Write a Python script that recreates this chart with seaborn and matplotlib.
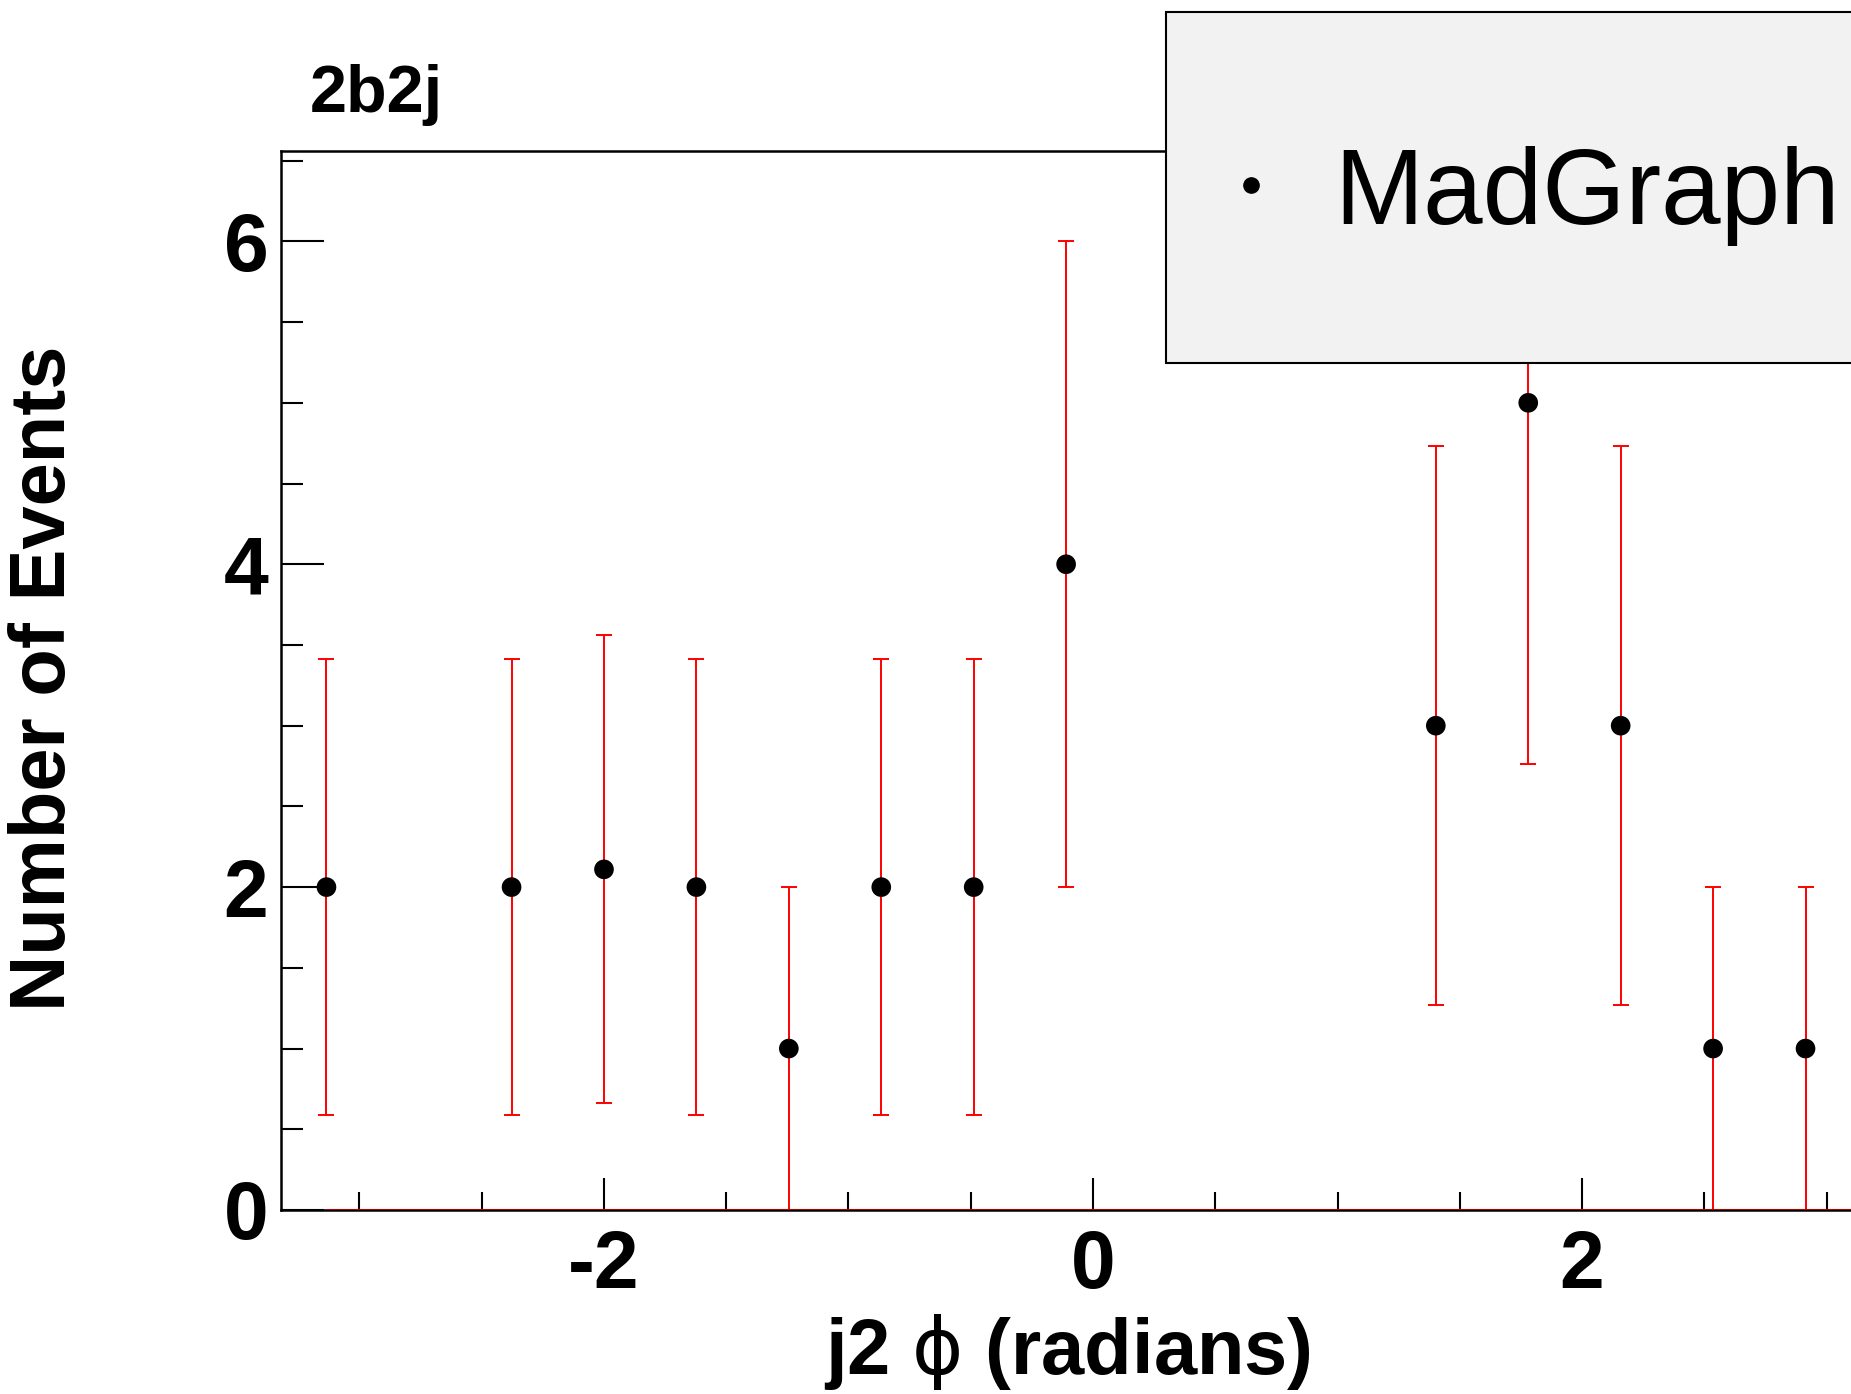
import numpy as np
import pandas as pd
import matplotlib
matplotlib.use("Agg")
import matplotlib.pyplot as plt
from matplotlib.patches import Rectangle
from matplotlib.lines import Line2D
import seaborn as sns

# bin centres (radians) and counts
phi_centers = [-3.135, -2.378, -2.0, -1.622, -1.244, -0.866, -0.488, -0.11,
               1.402, 1.78, 2.158, 2.536, 2.914]
n_events = [2, 2, 2.11, 2, 1, 2, 2, 4, 3, 5, 3, 1, 1]
n_errors = [1.41, 1.41, 1.45, 1.41, 1.0, 1.41, 1.41, 2.0, 1.73, 2.24, 1.73, 1.0, 1.0]

x_major = [-2, 0, 2]
y_major = [0, 2, 4, 6]

df = pd.DataFrame({"phi": phi_centers, "n": n_events, "err": n_errors})

sns.set_style("ticks")
plt.rcParams["font.family"] = ["Liberation Sans", "DejaVu Sans"]
plt.rcParams["mathtext.fontset"] = "dejavusans"
for key in ["text.color", "axes.labelcolor", "xtick.color", "ytick.color",
            "axes.edgecolor"]:
    plt.rcParams[key] = "black"

fig = plt.figure(figsize=(18.51, 13.94), dpi=100)
# axes runs past the right edge of the canvas, as in the reference
ax = fig.add_axes([0.1518, 0.132, 0.8984, 0.7597])

ax.axhline(0, xmin=0.027, color="#b00000", lw=2.2, zorder=3)
ax.errorbar(df["phi"], df["n"], yerr=df["err"], fmt="none", ecolor="red",
            elinewidth=1.4, capsize=5.5, capthick=1.4, zorder=2)
sns.scatterplot(data=df, x="phi", y="n", ax=ax, color="black", s=200,
                edgecolor="none", zorder=4, legend=False)

ax.set_xlim(-3.321, 3.48)
ax.set_ylim(0, 6.56)

ax.set_xticks(x_major)
ax.set_xticks(np.arange(-3.0, 3.5, 0.5), minor=True)
ax.set_yticks(y_major)
ax.set_yticks(np.arange(0, 6.6, 0.5), minor=True)
ax.set_xticklabels([str(v) for v in x_major])
ax.set_yticklabels([str(v) for v in y_major])

ax.tick_params(axis="y", which="major", direction="in", length=31, width=1.5,
               labelsize=58, pad=9)
ax.tick_params(axis="y", which="minor", direction="in", length=16, width=1.5)
ax.tick_params(axis="x", which="major", direction="in", length=23, width=1.5,
               labelsize=58, pad=14)
ax.tick_params(axis="x", which="minor", direction="in", length=13, width=1.5)
for lab in ax.get_xticklabels() + ax.get_yticklabels():
    lab.set_fontweight("bold")

for sp in ax.spines.values():
    sp.set_linewidth(1.8)
    sp.set_color("black")
ax.set_xlabel("")
ax.set_ylabel("")

fig.text(0.5765, 0.030, "j2 $\\mathrm{\\phi}$ (radians)", ha="center", va="center",
         fontsize=56, fontweight="bold")
fig.text(0.024, 0.5136, "Number of Events", ha="center", va="center",
         rotation=90, fontsize=56, fontweight="bold")
fig.text(0.1676, 0.9197, "2b2j", ha="left", va="baseline", fontsize=48,
         fontweight="bold")

# legend box (also cut by the right edge)
fig.patches.append(Rectangle((0.63, 0.7396), 0.5, 0.252, transform=fig.transFigure,
                             facecolor="#f2f2f2", edgecolor="black", lw=1.5,
                             zorder=5))
fig.lines.append(Line2D([0.6759], [0.8673], transform=fig.transFigure,
                        marker="o", color="black", markersize=11, lw=0, zorder=6))
fig.text(0.7208, 0.8393, "MadGraph", ha="left", va="baseline", fontsize=77,
         zorder=6)

fig.savefig("out.png", dpi=100)
